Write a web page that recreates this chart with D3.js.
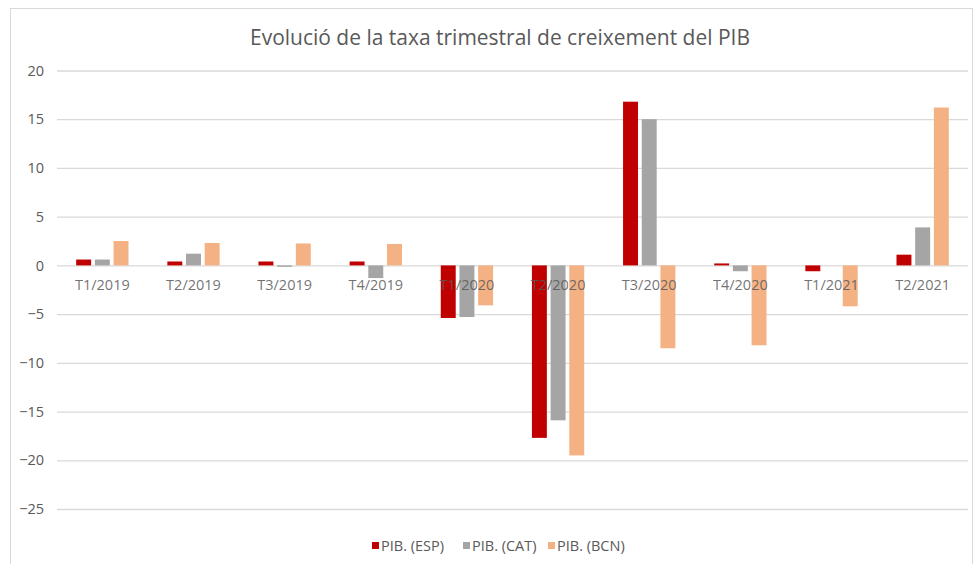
<!DOCTYPE html>
<html><head><meta charset="utf-8">
<script src="https://cdn.jsdelivr.net/npm/d3@7"></script>
<style>body{margin:0;background:#fff}svg{display:block}</style>
</head><body>
<svg id="c" width="975" height="564"></svg>
<script>
const title = "Evolució de la taxa trimestral de creixement del PIB";
const categories = ["T1/2019","T2/2019","T3/2019","T4/2019","T1/2020","T2/2020","T3/2020","T4/2020","T1/2021","T2/2021"];
const seriesNames = ["PIB. (ESP)","PIB. (CAT)","PIB. (BCN)"];
const esp = [0.6, 0.4, 0.4, 0.4, -5.4, -17.7, 16.8, 0.2, -0.6, 1.1];
const cat = [0.6, 1.2, -0.15, -1.3, -5.3, -15.9, 15.0, -0.6, 0.0, 3.9];
const bcn = [2.5, 2.3, 2.25, 2.2, -4.1, -19.5, -8.5, -8.2, -4.2, 16.2];
const yTicks = [20, 15, 10, 5, 0, -5, -10, -15, -20, -25];
const colors = ["#c00000", "#a5a5a5", "#f4b183"];

const series = [esp, cat, bcn];
const svg = d3.select("#c");
const font = "'Open Sans', sans-serif";
const textColor = "#595959";

svg.append("rect").attr("x",10.5).attr("y",8.5).attr("width",962).attr("height",570)
  .attr("fill","#fff").attr("stroke","#d9d9d9");

svg.append("text").attr("x",500).attr("y",45).attr("text-anchor","middle")
  .attr("font-family",font).attr("font-size",21).attr("fill",textColor)
  .attr("textLength",500).attr("lengthAdjust","spacingAndGlyphs").text(title);

const left = 57, right = 968;
const y = d3.scaleLinear().domain([-25, 20]).range([509, 70.5]);
const x = d3.scaleBand().domain(categories).range([left, right]).paddingInner(0.385).paddingOuter(0.19);
const xs = d3.scaleBand().domain(d3.range(3)).range([0, x.bandwidth()]).paddingInner(0.2).paddingOuter(0.1);

// gridlines
const yAxis = d3.axisLeft(y).tickValues(yTicks).tickSize(-(right-left)).tickPadding(13).tickFormat(d3.format("d"));
const ga = svg.append("g").attr("transform",`translate(${left},0)`).call(yAxis);
ga.select(".domain").remove();
ga.selectAll(".tick line").attr("stroke","#d9d9d9").attr("stroke-width",1.3);
ga.selectAll(".tick text").attr("font-family",font).attr("font-size",14.5).attr("fill",textColor);

// bars
const groups = svg.append("g").selectAll("g").data(categories).join("g")
  .attr("transform", d => `translate(${x(d)},0)`);
groups.selectAll("rect").data((d,i) => series.map((s,k) => ({k, v: s[i]}))).join("rect")
  .attr("x", d => xs(d.k))
  .attr("width", xs.bandwidth())
  .attr("y", d => y(Math.max(0, d.v)))
  .attr("height", d => Math.abs(y(d.v) - y(0)))
  .attr("fill", d => colors[d.k]);

// x labels on top of bars
const xAxis = d3.axisBottom(x).tickSize(0).tickPadding(14);
const gx = svg.append("g").attr("transform",`translate(0,${y(0)})`).call(xAxis);
gx.select(".domain").remove();
gx.selectAll(".tick text").attr("font-family",font).attr("font-size",14.5).attr("fill",textColor)
  .attr("fill-opacity",0.85);

// legend
const legendX = [372, 463, 548];
const lg = svg.append("g").selectAll("g").data(seriesNames).join("g")
  .attr("transform", (d,i) => `translate(${legendX[i]},546)`);
lg.append("rect").attr("x",0).attr("y",-4).attr("width",7).attr("height",7).attr("fill",(d,i)=>colors[i]);
lg.append("text").attr("x",9).attr("y",0).attr("dy","0.35em")
  .attr("font-family",font).attr("font-size",14.5).attr("fill",textColor).text(d=>d);
</script>
</body></html>
